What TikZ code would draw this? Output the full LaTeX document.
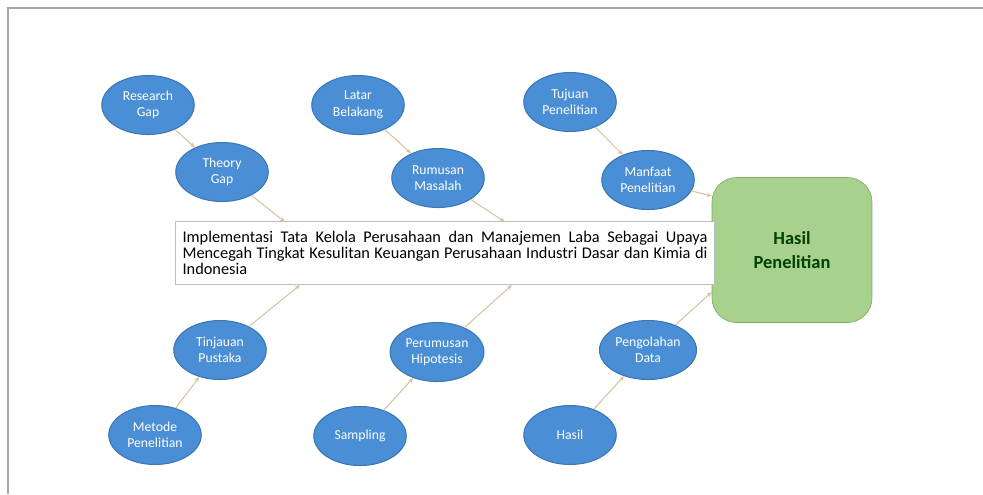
\documentclass[tikz,border=0pt]{standalone}
\usepackage{fontspec}
\setmainfont{Carlito}
\setsansfont{Carlito}
\usepackage{tikz}
\usetikzlibrary{shapes.geometric,arrows.meta,calc}
\definecolor{elfill}{HTML}{4A8ED6}
\definecolor{eldraw}{HTML}{3B76B5}
\definecolor{boxgreen}{HTML}{A9D18E}
\definecolor{boxline}{HTML}{7FAE63}
\definecolor{linktan}{HTML}{D8C39E}
\tikzset{
  bubble/.style={ellipse,draw=eldraw,fill=elfill,text=white,line width=0.6pt,
    minimum width=1.85cm,minimum height=1.18cm,inner sep=1pt,align=center,
    font=\fontsize{7.8}{9.4}\selectfont\sffamily},
  link/.style={draw=linktan,line width=0.6pt,-{Stealth[length=3pt,width=2.5pt]}}
}
\begin{document}
\begin{tikzpicture}[x=0.02cm,y=-0.02cm]
\useasboundingbox (0,0) rectangle (983,494);
\draw[gray!70,line width=1pt] (8,494) -- (8,8) -- (983,8);
% head of the fish
\node[rounded corners=14pt,draw=boxline,fill=boxgreen,minimum width=3.2cm,minimum height=2.9cm,
  font=\fontsize{10.5}{14}\selectfont\sffamily\bfseries,text=green!25!black,align=center] (hasil) at (792,250) {Hasil\\Penelitian};
% spine
\node[draw=gray!50,fill=white,text width=10.5cm,inner sep=4pt,minimum height=1.26cm,
  font=\fontsize{9.3}{8.9}\selectfont\sffamily,align=justify] (judul) at (445,253)
  {Implementasi Tata Kelola Perusahaan dan Manajemen Laba Sebagai Upaya Mencegah Tingkat Kesulitan Keuangan Perusahaan Industri Dasar dan Kimia di Indonesia};
% upper bones
\node[bubble] (rgap) at (148,105) {Research\\Gap};
\node[bubble] (tgap) at (222,172) {Theory\\Gap};
\node[bubble] (latar) at (358,105) {Latar\\Belakang};
\node[bubble] (rumus) at (438,178) {Rumusan\\Masalah};
\node[bubble] (tujuan) at (570,102) {Tujuan\\Penelitian};
\node[bubble] (manfaat) at (648,180) {Manfaat\\Penelitian};
% lower bones
\node[bubble] (tinjau) at (220,350) {Tinjauan\\Pustaka};
\node[bubble] (hipo) at (437,352) {Perumusan\\Hipotesis};
\node[bubble] (olah) at (648,350) {Pengolahan\\Data};
\node[bubble] (metode) at (155,435) {Metode\\Penelitian};
\node[bubble] (sampel) at (360,436) {Sampling};
\node[bubble] (hasildata) at (570,435) {Hasil};
% ends of the bones
\coordinate (u1) at (285,222);
\coordinate (u2) at (505,222);
\coordinate (l1) at (300,285);
\coordinate (l2) at (512,285);
\draw[link] (rgap) -- (tgap);
\draw[link] (tgap) -- (u1);
\draw[link] (latar) -- (rumus);
\draw[link] (rumus) -- (u2);
\draw[link] (tujuan) -- (manfaat);
\draw[link] (manfaat) -- (hasil.west |- 0,196);
\draw[link] (metode) -- (tinjau);
\draw[link] (tinjau) -- (l1);
\draw[link] (sampel) -- (hipo);
\draw[link] (hipo) -- (l2);
\draw[link] (hasildata) -- (olah);
\draw[link] (olah) -- (hasil.west |- 0,292);
\end{tikzpicture}
\end{document}
